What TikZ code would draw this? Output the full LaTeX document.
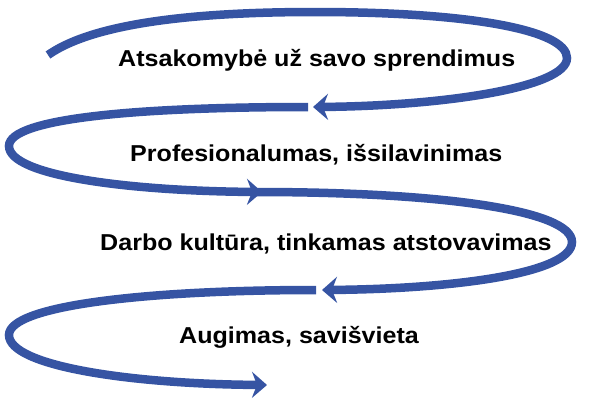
\documentclass[tikz,border=0pt]{standalone}
\usepackage{fontspec}
\setmainfont{Liberation Sans}
\usetikzlibrary{arrows.meta}
\definecolor{spiral}{RGB}{54,84,163}
\begin{document}
\begin{tikzpicture}[x=1pt,y=-1pt,
  loopline/.style={draw=spiral, line width=8.5pt, line cap=butt,
    -{Stealth[length=15pt,width=26pt,inset=5pt]}},
  lbl/.style={font=\fontsize{23}{26}\selectfont\bfseries, anchor=base west,
    inner sep=0pt, text=black, xscale=1.09}]
\useasboundingbox (0,0) rectangle (600,400);
% endpoints
\coordinate (s1) at (48,55);
\coordinate (r1) at (567,58);
\coordinate (t1) at (313,107);
\coordinate (s2) at (308,107);
\coordinate (l2) at (9,146);
\coordinate (t2) at (262,192);
\coordinate (s3) at (256,192);
\coordinate (r3) at (572,242);
\coordinate (t3) at (322,290);
\coordinate (s4) at (316,290);
\coordinate (l4) at (9,335);
\coordinate (t4) at (267,385);
% loops (drawn bottom-up so arrowheads overlay the next start)
\draw[loopline] (s4) .. controls (150,290) and (9,305) .. (l4)
  .. controls (9,366) and (130,384) .. (t4);
\draw[loopline] (s3) .. controls (440,192) and (572,210) .. (r3)
  .. controls (572,274) and (450,289) .. (t3);
\draw[loopline] (s2) .. controls (140,107) and (9,118) .. (l2)
  .. controls (9,176) and (130,191) .. (t2);
\draw[loopline] (s1) .. controls (95,22) and (200,12) .. (315,12)
  .. controls (470,12) and (567,30) .. (r1)
  .. controls (567,88) and (440,106) .. (t1);
% labels
\node[lbl] (a) at (118,66) {Atsakomybė už savo sprendimus};
\node[lbl] (b) at (130,161) {Profesionalumas, išsilavinimas};
\node[lbl] (c) at (100,250) {Darbo kultūra, tinkamas atstovavimas};
\node[lbl] (d) at (179,343) {Augimas, savišvieta};
\end{tikzpicture}
\end{document}
